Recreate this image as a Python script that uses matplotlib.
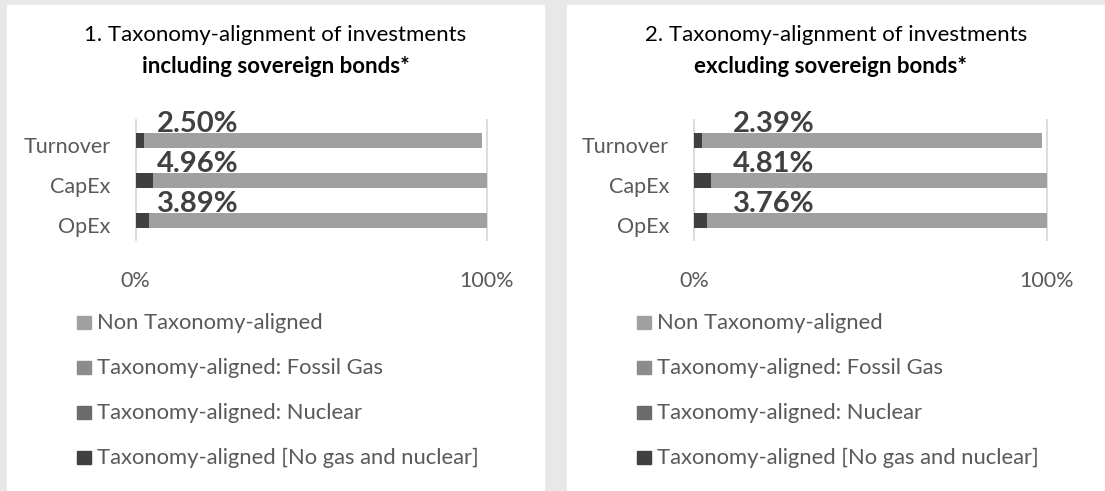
import matplotlib.pyplot as plt
from matplotlib.patches import Rectangle
from matplotlib.transforms import ScaledTranslation

plt.rcParams['font.family'] = ['Lato', 'DejaVu Sans']

# Taxonomy-alignment per KPI (%)
categories = ['Turnover', 'CapEx', 'OpEx']

incl_no_gas_nuclear = [2.50, 4.96, 3.89]
incl_nuclear = [0.0, 0.0, 0.0]
incl_fossil_gas = [0.0, 0.0, 0.0]
incl_non_aligned = [96.10, 95.04, 96.11]

excl_no_gas_nuclear = [2.39, 4.81, 3.76]
excl_nuclear = [0.0, 0.0, 0.0]
excl_fossil_gas = [0.0, 0.0, 0.0]
excl_non_aligned = [96.20, 95.19, 96.24]

titles = ['1. Taxonomy-alignment of investments', '2. Taxonomy-alignment of investments']
subtitles = ['including sovereign bonds*', 'excluding sovereign bonds*']
legend_labels = ['Non Taxonomy-aligned', 'Taxonomy-aligned: Fossil Gas',
                 'Taxonomy-aligned: Nuclear', 'Taxonomy-aligned [No gas and nuclear]']

W, H = 1105, 491
TEXT = '#595959'
C_NON = '#a0a0a0'
C_GAS = '#8c8c8c'
C_NUC = '#6b6b6b'
C_ALIGNED = '#404040'

fig = plt.figure(figsize=(W / 100, H / 100), dpi=100, facecolor='#e8e8e8')


def fx(x):
    return x / W


def fy(y):
    return 1 - y / H


panels = [
    dict(left=7, right=544, ax_l=135.5, ax_r=486.5, title_x=275.5, sub_x=275.5, label_x=6.2, leg_x=77,
         data=(incl_no_gas_nuclear, incl_nuclear, incl_fossil_gas, incl_non_aligned)),
    dict(left=567, right=1105, ax_l=694, ax_r=1047, title_x=836, sub_x=831, label_x=11.0, leg_x=637,
         data=(excl_no_gas_nuclear, excl_nuclear, excl_fossil_gas, excl_non_aligned)),
]

for k, p in enumerate(panels):
    # white card behind each chart
    fig.patches.append(Rectangle((fx(p['left']), 0), fx(p['right'] - p['left']), 1 - 5 / H,
                                 transform=fig.transFigure, color='white', zorder=-2))

    fig.text(fx(p['title_x']), fy(40.7), titles[k], ha='center', va='baseline',
             fontsize=16, color='black')
    fig.text(fx(p['sub_x']), fy(72.7), subtitles[k], ha='center', va='baseline',
             fontsize=16, fontweight='bold', color='black')

    ax = fig.add_axes([fx(p['ax_l']), fy(240.3), fx(p['ax_r'] - p['ax_l']), 120 / H])
    ax.set_facecolor('none')

    aligned, nuclear, gas, non = p['data']
    ypos = list(range(len(categories)))
    left = [0.0] * len(categories)
    for vals, col in [(aligned, C_ALIGNED), (nuclear, C_NUC), (gas, C_GAS), (non, C_NON)]:
        ax.barh(ypos, vals, left=left, height=0.38, color=col, zorder=2)
        left = [a + b for a, b in zip(left, vals)]

    for i, v in enumerate(aligned):
        ax.text(p['label_x'], i - 0.215, f'{v:.2f}%', ha='left', va='baseline',
                fontsize=21, fontweight='bold', color=C_ALIGNED, zorder=3)

    ax.set_xlim(0, 100)
    ax.set_ylim(2.5, -0.5)
    ax.set_xticks([0, 100])
    ax.set_xticklabels(['0%', '100%'])
    ax.set_yticks(ypos)
    ax.set_yticklabels(categories)
    ax.tick_params(axis='both', length=0, labelsize=15.5, labelcolor=TEXT)
    ax.tick_params(axis='x', pad=22)
    ax.tick_params(axis='y', pad=18)
    for lab in ax.get_yticklabels():
        lab.set_transform(lab.get_transform() + ScaledTranslation(0, -5 / 100, fig.dpi_scale_trans))
    for s in ax.spines.values():
        s.set_visible(False)
    ax.grid(axis='x', color='#d9d9d9', linewidth=1.3, zorder=1)
    ax.grid(axis='y', visible=False)
    for gl in ax.get_xgridlines():
        gl.set_clip_on(False)

    # legend, one row per series
    for j, (lab, col) in enumerate(zip(legend_labels, [C_NON, C_GAS, C_NUC, C_ALIGNED])):
        base = 329 + 45 * j
        fig.patches.append(Rectangle((fx(p['leg_x']), fy(base)), fx(14), 13 / H,
                                     transform=fig.transFigure, color=col, zorder=1))
        fig.text(fx(p['leg_x'] + 20), fy(base), lab, ha='left', va='baseline',
                 fontsize=15.8, color=TEXT)

fig.savefig('out.png', dpi=100, facecolor=fig.get_facecolor())
